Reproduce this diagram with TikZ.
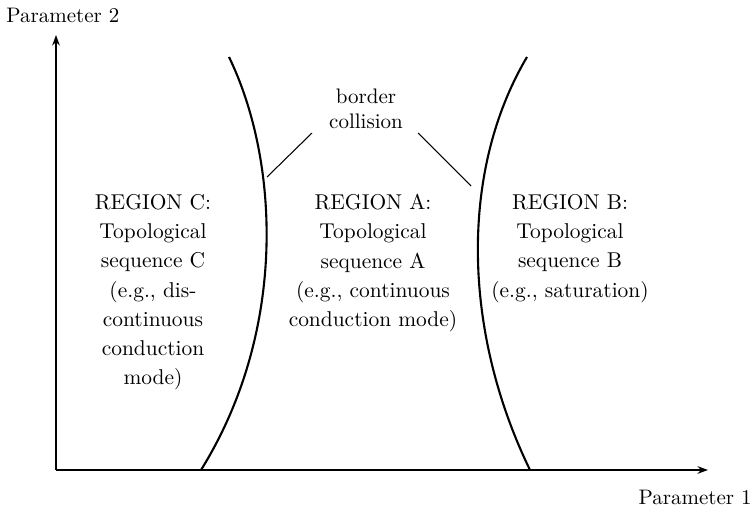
\documentclass[tikz,border=0pt]{standalone}
\usetikzlibrary{arrows.meta}
\begin{document}
\begin{tikzpicture}[x=0.476pt,y=-0.476pt,
  axis/.style={line width=1.2pt,-{Stealth[length=5pt,width=3.6pt]}},
  border/.style={line width=1pt},
  leader/.style={line width=0.5pt},
  lbl/.style={inner sep=0pt,font=\fontsize{10}{12}\selectfont},
  region/.style={inner sep=0pt,align=center,anchor=north,font=\fontsize{10.2}{13.9}\selectfont}]
\useasboundingbox (0,0) rectangle (756,510);
\coordinate (O) at (56,470);
\coordinate (ytip) at (56,35);
\coordinate (xtip) at (708,470);
\draw[axis] (O) -- (ytip);
\draw[axis] (O) -- (xtip);
\node[lbl,anchor=west] (p2) at (6,15) {Parameter 2};
\node[lbl,anchor=east] (p1) at (752,497) {Parameter 1};
% borders
\coordinate (lt) at (229,57);
\coordinate (lb) at (201,470);
\coordinate (rt) at (527,57);
\coordinate (rb) at (530,470);
\draw[border] (lt) .. controls (279,160) and (288,330) .. (lb);
\draw[border] (rt) .. controls (460,170) and (462,330) .. (rb);
% label
\node[lbl,align=center,anchor=north] (bc) at (366,88.5) {border\\collision};
\coordinate (l1) at (312,133);
\coordinate (l2) at (267,177);
\coordinate (r1) at (418,133);
\coordinate (r2) at (471,186);
\draw[leader] (l1) -- (l2);
\draw[leader] (r1) -- (r2);
\node[region] (rc) at (153,194) {REGION C:\\Topological\\sequence C\\(e.g., dis-\\continuous\\conduction\\mode)};
\node[region] (ra) at (373,194) {REGION A:\\Topological\\sequence A\\(e.g., continuous\\conduction mode)};
\node[region] (rb2) at (570,194) {REGION B:\\Topological\\sequence B\\(e.g., saturation)};
\end{tikzpicture}
\end{document}
